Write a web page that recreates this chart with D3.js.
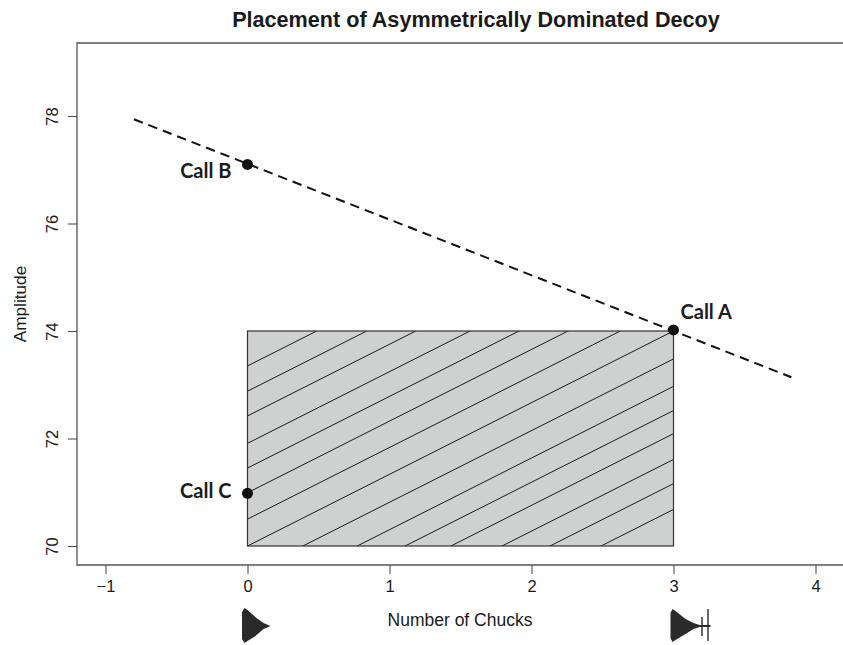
<!DOCTYPE html>
<html><head><meta charset="utf-8">
<script src="https://cdn.jsdelivr.net/npm/d3@7/dist/d3.min.js"></script>
<style>html,body{margin:0;padding:0;background:#fff;overflow:hidden}svg{display:block}</style>
</head><body><svg id="chart" width="843" height="645"></svg>
<script>
const xTicks = [-1, 0, 1, 2, 3, 4];
const yTicks = [70, 72, 74, 76, 78];
const callNames = ["Call A", "Call B", "Call C"];
const callChucks = [3, 0, 0];
const callAmplitude = [74.02, 77.1, 70.98];
const trendChucks = [-0.8, 3.83];
const trendAmplitude = [77.94, 73.14];
const regionChucks = [0, 3];
const regionAmplitude = [70, 74];
const hatchIntercepts = [66.68, 67.16, 67.61, 68.09, 68.52, 68.97, 69.48, 70, 70.5, 70.99, 71.45, 71.91, 72.42, 72.88, 73.35];
const hatchSlope = 4 / 3;

const svg = d3.select("#chart");
const x = d3.scaleLinear().domain([-1, 4]).range([105.5, 815.5]);
const y = d3.scaleLinear().domain([70, 78]).range([546, 116]);
const frame = {l: 77, t: 43, r: 843, b: 565};
const ink = "#1a1a1a";
const sans = "'Liberation Sans', Arial, sans-serif";

svg.append("text").attr("x", 476).attr("y", 27).attr("text-anchor", "middle")
  .attr("font-family", sans).attr("font-weight", "bold").attr("font-size", 21.6).attr("fill", ink)
  .text("Placement of Asymmetrically Dominated Decoy");

svg.append("path").attr("fill", "none").attr("stroke", "#555").attr("stroke-width", 1.3)
  .attr("d", `M${frame.r},${frame.t}H${frame.l}V${frame.b}H${frame.r}`);

const xAxis = svg.append("g").attr("transform", `translate(0,${frame.b})`)
  .call(d3.axisBottom(x).tickValues(xTicks).tickSize(9).tickPadding(6).tickFormat(d => d < 0 ? "\u2212" + (-d) : d));
const yAxis = svg.append("g").attr("transform", `translate(${frame.l},0)`)
  .call(d3.axisLeft(y).tickValues(yTicks).tickSize(9));
[xAxis, yAxis].forEach(a => {
  a.select(".domain").remove();
  a.selectAll("line").attr("stroke", "#444").attr("stroke-width", 1);
  a.selectAll("text").attr("font-family", sans).attr("font-size", 16.5).attr("fill", ink);
});
yAxis.selectAll("text").attr("text-anchor", "middle").attr("x", 0).attr("dy", null).attr("y", 0)
  .attr("transform", "translate(-19.5,0) rotate(-90)");

svg.append("text").attr("x", 460).attr("y", 626).attr("text-anchor", "middle")
  .attr("font-family", sans).attr("font-size", 17.5).attr("fill", ink).text("Number of Chucks");
svg.append("text").attr("transform", "translate(26,304) rotate(-90)").attr("text-anchor", "middle")
  .attr("font-family", sans).attr("font-size", 17.2).attr("fill", ink).text("Amplitude");

const defs = svg.append("defs");
defs.append("filter").attr("id", "soft").append("feGaussianBlur").attr("stdDeviation", 0.5);
const rx = x(regionChucks[0]), rw = x(regionChucks[1]) - rx, ry = y(regionAmplitude[1]), rh = y(regionAmplitude[0]) - ry;
defs.append("clipPath").attr("id", "region").append("rect").attr("x", rx).attr("y", ry).attr("width", rw).attr("height", rh);
svg.append("rect").attr("x", rx).attr("y", ry).attr("width", rw).attr("height", rh).attr("fill", "#cfd0d0");
svg.append("g").attr("clip-path", "url(#region)").selectAll("line").data(hatchIntercepts).join("line")
  .attr("x1", x(regionChucks[0])).attr("x2", x(regionChucks[1]))
  .attr("y1", d => y(d + hatchSlope * regionChucks[0])).attr("y2", d => y(d + hatchSlope * regionChucks[1]))
  .attr("stroke", ink).attr("stroke-width", 1);
svg.append("rect").attr("x", rx).attr("y", ry).attr("width", rw).attr("height", rh)
  .attr("fill", "none").attr("stroke", "#333").attr("stroke-width", 1.2);

svg.append("path").datum(d3.zip(trendChucks, trendAmplitude))
  .attr("fill", "none").attr("stroke", "#111").attr("stroke-width", 2).attr("stroke-dasharray", "9.5,6")
  .attr("d", d3.line().x(d => x(d[0])).y(d => y(d[1])));

svg.append("g").selectAll("circle").data(callNames).join("circle")
  .attr("cx", (d, i) => x(callChucks[i])).attr("cy", (d, i) => y(callAmplitude[i])).attr("r", 5.5).attr("fill", "#111");

const labelDx = [7, -16, -16], labelDy = [-11, 14, 5];
const labelAnchor = ["start", "end", "end"];
svg.append("g").selectAll("text").data(callNames).join("text")
  .attr("x", (d, i) => x(callChucks[i]) + labelDx[i]).attr("y", (d, i) => y(callAmplitude[i]) + labelDy[i])
  .attr("text-anchor", (d, i) => labelAnchor[i])
  .attr("font-family", "Lato, sans-serif").attr("font-weight", "bold").attr("font-size", 20).attr("fill", "#1c1c1c")
  .text(d => d);

// Waveform icons sit under the x axis at the 0 and 3 chuck ticks.
const wave = "#2a2a2a";
svg.append("path").attr("transform", `translate(${x(0)},626)`).attr("fill", wave).attr("filter", "url(#soft)")
  .attr("d", "M-5.5,-14 L-3,-18 L0,-16 L9,-8 L16,-3 L23,0 L16,3 L8,10 L0,15 L-3,17 L-5.5,13 Z");
const icon = svg.append("g").attr("transform", `translate(${x(3)},626)`).attr("filter", "url(#soft)");
icon.append("path").attr("fill", wave)
  .attr("d", "M-3,-13 L-1,-17 L2,-15 L12,-7 L20,-3 L26,-1 L37,-1 L37,1 L26,1 L20,3 L12,8 L2,14 L-1,16 L-3,12 Z");
icon.append("path").attr("stroke", wave).attr("stroke-width", 1.4).attr("fill", "none")
  .attr("d", "M28.5,-9V10 M34.5,-17V15");
</script></body></html>
